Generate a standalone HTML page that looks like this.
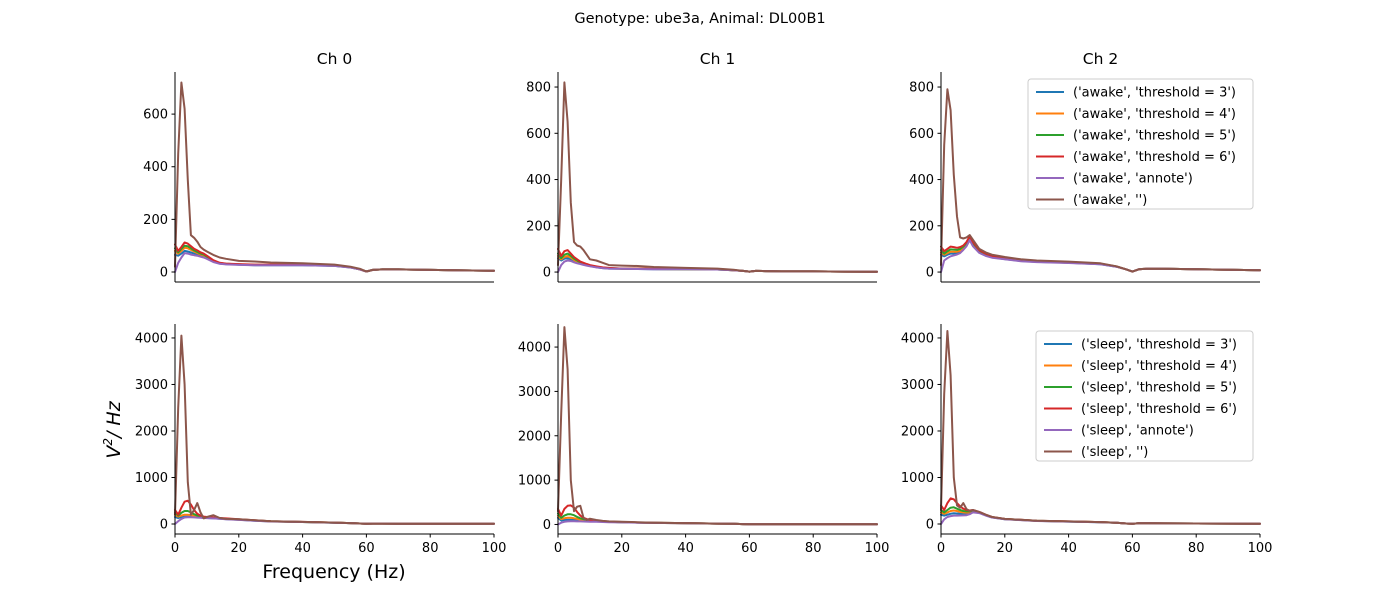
<!DOCTYPE html>
<html><head><meta charset="utf-8"><style>
body{margin:0;background:#fff;font-family:"Liberation Sans","DejaVu Sans",sans-serif;}
svg text{font-family:"DejaVu Sans","Liberation Sans",sans-serif;fill:#000;}
</style></head><body>
<svg id="fig" width="1400" height="600" viewBox="0 0 1400 600" xmlns="http://www.w3.org/2000/svg">
<text x="700" y="23" font-size="14.5" text-anchor="middle">Genotype: ube3a, Animal: DL00B1</text>
<text x="334" y="578" font-size="19" text-anchor="middle">Frequency (Hz)</text>
<text transform="translate(120,430) rotate(-90)" font-size="19" text-anchor="middle" font-style="italic">V<tspan font-size="12" dy="-8">2</tspan><tspan dy="8">/ Hz</tspan></text>
</svg>
<script>
const freqs=[0,1,2,3,4,5,6,7,8,9,10,12,14,16,20,25,30,40,50,55,58,60,62,65,70,80,90,100];
const seriesNames=["threshold = 3","threshold = 4","threshold = 5","threshold = 6","annote",""];
const colors=["#1f77b4","#ff7f0e","#2ca02c","#d62728","#9467bd","#8c564b"];
const xTicks=[0,20,40,60,80,100];
// awake ch0
const a0Blue=[65,62,70,80,78,74,70,66,62,58,52,40,32,30,28,26,26,26,23,17,10,2,8,10,10,8,6,5];
const a0Orange=[80,70,80,92,90,84,78,72,67,63,56,42,33,31,29,27,27,27,24,18,10,2,8,10,10,8,6,5];
const a0Green=[90,75,88,100,98,90,82,76,70,66,58,43,34,31,29,27,27,27,24,18,10,2,8,10,10,8,6,5];
const a0Red=[105,80,95,112,108,98,88,82,75,70,62,45,35,32,30,28,28,28,25,18,10,2,8,10,10,8,6,5];
const a0Purple=[0,35,55,72,70,66,64,62,58,55,50,38,31,29,27,26,26,26,23,17,10,2,8,10,10,8,6,5];
const a0Brown=[20,450,720,620,350,140,130,115,95,85,78,65,55,50,42,40,36,33,28,20,12,2,8,10,10,8,6,5];
// awake ch1
const a1Blue=[60,50,58,60,55,48,42,38,33,30,26,21,17,15,14,13,12,12,11,8,5,2,5,4,3,3,2,1];
const a1Orange=[70,55,65,70,62,52,45,40,35,31,27,22,18,16,14,14,13,12,11,8,5,2,5,4,3,3,2,1];
const a1Green=[80,60,75,80,70,58,50,42,38,33,28,23,19,17,15,14,13,12,11,8,5,2,5,4,3,3,2,1];
const a1Red=[100,70,90,95,80,65,55,45,40,35,30,25,20,18,15,15,14,13,12,8,5,2,5,4,3,3,2,1];
const a1Purple=[0,30,45,50,48,42,38,35,31,28,25,20,17,15,14,13,12,12,11,8,5,2,5,4,3,3,2,1];
const a1Brown=[30,400,820,650,300,130,115,110,95,75,55,50,40,30,28,26,22,18,15,10,5,2,5,4,3,3,2,1];
// awake ch2
const a2Blue=[75,68,75,80,80,82,86,100,115,140,115,85,72,64,56,48,44,40,34,23,12,2,12,15,14,12,10,8];
const a2Orange=[85,75,82,88,88,88,92,105,120,145,120,88,75,66,58,49,45,40,35,23,12,2,12,15,14,12,10,8];
const a2Green=[95,80,90,98,97,96,100,110,125,150,125,92,78,68,60,50,46,41,35,24,12,2,12,15,14,12,10,8];
const a2Red=[110,90,100,110,108,105,108,115,130,155,130,95,80,70,62,52,47,42,36,24,12,2,12,15,14,12,10,8];
const a2Purple=[0,50,60,68,72,76,82,96,112,138,112,83,70,62,55,47,43,39,34,23,12,2,12,15,14,12,10,8];
const a2Brown=[30,550,790,700,420,240,150,145,150,160,140,100,85,75,65,55,50,45,38,25,12,2,12,15,14,12,10,8];
// sleep ch0
const s0Blue=[150,130,150,160,160,155,150,145,140,135,130,122,115,105,90,72,55,42,29,20,10,5,8,8,7,6,5,5];
const s0Orange=[200,160,180,200,200,190,175,160,150,140,135,128,120,110,95,75,56,43,30,20,10,5,8,8,7,6,5,5];
const s0Green=[250,180,240,280,280,250,210,180,160,150,145,135,125,115,98,78,58,44,30,20,10,5,8,8,7,6,5,5];
const s0Red=[300,200,350,480,500,420,300,220,180,160,150,140,130,120,100,80,60,45,30,20,10,5,8,8,7,6,5,5];
const s0Purple=[0,60,110,140,145,145,142,138,135,130,126,120,112,102,88,70,54,42,29,20,10,5,8,8,7,6,5,5];
const s0Brown=[200,2500,4050,3000,900,200,300,450,250,120,150,190,130,110,100,80,60,45,30,20,10,5,8,8,7,6,5,5];
// sleep ch1
const s1Blue=[150,90,100,105,105,100,95,90,85,80,75,70,64,58,50,42,36,29,20,15,8,5,6,6,5,4,4,3];
const s1Orange=[200,120,140,150,150,140,125,110,100,92,85,75,68,60,50,43,36,29,20,15,8,5,6,6,5,4,4,3];
const s1Green=[250,150,200,230,230,210,170,140,120,105,90,80,70,62,52,44,37,30,20,15,8,5,6,6,5,4,4,3];
const s1Red=[350,200,350,420,430,380,280,200,150,120,100,85,75,65,55,45,38,30,20,15,8,5,6,6,5,4,4,3];
const s1Purple=[0,40,60,70,72,72,70,68,66,64,62,60,56,52,46,40,35,28,20,15,8,5,6,6,5,4,4,3];
const s1Brown=[300,2500,4450,3500,1000,300,400,420,150,100,130,100,80,70,60,50,40,30,20,15,8,5,6,6,5,4,4,3];
// sleep ch2
const s2Blue=[200,180,200,220,230,225,220,215,215,225,260,240,185,142,104,85,66,52,39,25,10,5,15,15,12,10,8,6];
const s2Orange=[250,220,250,280,290,280,260,250,245,250,275,245,190,145,106,86,67,53,40,25,10,5,15,15,12,10,8,6];
const s2Green=[300,250,300,350,360,330,300,280,270,270,290,250,195,148,108,88,68,54,40,25,10,5,15,15,12,10,8,6];
const s2Red=[400,300,450,550,530,450,380,330,300,290,300,260,200,150,110,90,70,55,40,25,10,5,15,15,12,10,8,6];
const s2Purple=[0,100,150,170,180,180,182,185,190,210,250,235,182,140,102,84,65,52,39,25,10,5,15,15,12,10,8,6];
const s2Brown=[300,2800,4150,3200,1000,400,350,450,320,280,300,260,200,150,110,90,70,55,40,25,10,5,15,15,12,10,8,6];
const awakeTicks0=[0,200,400,600];
const awakeTicks=[0,200,400,600,800];
const sleepTicks=[0,1000,2000,3000,4000];

const NS="http://www.w3.org/2000/svg";
const fig=document.getElementById('fig');
function mk(tag,attrs,parent){const e=document.createElementNS(NS,tag);for(const k in attrs)e.setAttribute(k,attrs[k]);(parent||fig).appendChild(e);return e;}

const panels=[
 {id:"ch0-awake",x0:175,x1:494,y0:72,y1:282,ymin:-38,ymax:760,ticks:awakeTicks0,data:[a0Blue,a0Orange,a0Green,a0Red,a0Purple,a0Brown],title:"Ch 0",xlab:false,state:"awake"},
 {id:"ch1-awake",x0:558,x1:877,y0:72,y1:282,ymin:-43,ymax:865,ticks:awakeTicks,data:[a1Blue,a1Orange,a1Green,a1Red,a1Purple,a1Brown],title:"Ch 1",xlab:false,state:"awake"},
 {id:"ch2-awake",x0:941,x1:1260,y0:72,y1:282,ymin:-43,ymax:865,ticks:awakeTicks,data:[a2Blue,a2Orange,a2Green,a2Red,a2Purple,a2Brown],title:"Ch 2",xlab:false,state:"awake",legend:[1028,79,225]},
 {id:"ch0-sleep",x0:175,x1:494,y0:324,y1:534,ymin:-215,ymax:4300,ticks:sleepTicks,data:[s0Blue,s0Orange,s0Green,s0Red,s0Purple,s0Brown],xlab:true,state:"sleep"},
 {id:"ch1-sleep",x0:558,x1:877,y0:324,y1:534,ymin:-215,ymax:4520,ticks:sleepTicks,data:[s1Blue,s1Orange,s1Green,s1Red,s1Purple,s1Brown],xlab:true,state:"sleep"},
 {id:"ch2-sleep",x0:941,x1:1260,y0:324,y1:534,ymin:-215,ymax:4300,ticks:sleepTicks,data:[s2Blue,s2Orange,s2Green,s2Red,s2Purple,s2Brown],xlab:true,state:"sleep",legend:[1036,331,217]}
];

panels.forEach(p=>{
 const g=mk('g',{});
 
 
 const sx=v=>p.x0+(v-0)/(100-0)*(p.x1-p.x0);
 const sy=v=>p.y1-(v-p.ymin)/(p.ymax-p.ymin)*(p.y1-p.y0);
 p.data.forEach((arr,i)=>{
  const pts=arr.map((v,j)=>sx(freqs[j]).toFixed(1)+','+sy(v).toFixed(1)).join(' ');
  const pl=mk('polyline',{points:pts,fill:'none',stroke:colors[i],'stroke-width':2,'stroke-linejoin':'round','stroke-linecap':'round'},g);
  
  
 });
 const ya=mk('line',{x1:p.x0,y1:p.y0,x2:p.x0,y2:p.y1,stroke:'#000','stroke-width':1},g);
 
 
 const xa=mk('line',{x1:p.x0,y1:p.y1,x2:p.x1,y2:p.y1,stroke:'#000','stroke-width':1},g);
 
 
 p.ticks.forEach(t=>{
  const y=sy(t);
  mk('line',{x1:p.x0-3.5,y1:y,x2:p.x0,y2:y,stroke:'#000','stroke-width':1},g);
  const tx=mk('text',{x:p.x0-7,y:y+4.5,'font-size':13,'text-anchor':'end'},g);
  tx.textContent=t;
  
  
 });
 if(p.xlab){xTicks.forEach(t=>{
  const x=sx(t);
  mk('line',{x1:x,y1:p.y1,x2:x,y2:p.y1+3.5,stroke:'#000','stroke-width':1},g);
  const tx=mk('text',{x:x,y:p.y1+18,'font-size':13,'text-anchor':'middle'},g);
  tx.textContent=t;
  
  
 });}
 if(p.title){const tt=mk('text',{x:(p.x0+p.x1)/2,y:p.y0-8,'font-size':15.5,'text-anchor':'middle'},g);
  tt.textContent=p.title;
  
  }
 if(p.legend){
  const [lx,ly,lw]=p.legend;
  const lg=mk('g',{},g);
  
  
  mk('rect',{x:lx,y:ly,width:lw,height:130,rx:3,fill:'#fff','fill-opacity':0.8,stroke:'#ccc','stroke-width':1},lg);
  seriesNames.forEach((n,i)=>{
   const y=ly+13+i*21.5;
   const e=mk('g',{},lg);
   
   
   mk('line',{x1:lx+8,y1:y,x2:lx+36,y2:y,stroke:colors[i],'stroke-width':2},e);
   const t=mk('text',{x:lx+45,y:y+4.5,'font-size':13},e);
   t.textContent="('"+p.state+"', '"+n+"')";
  });
 }
});
</script>
</body></html>
